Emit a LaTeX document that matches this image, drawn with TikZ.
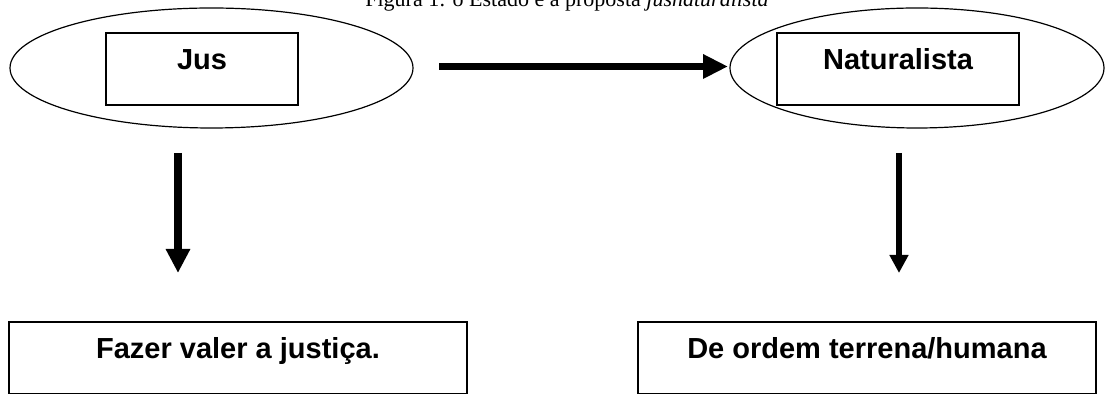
\documentclass[tikz,border=0pt]{standalone}
\usepackage{fontspec}
\setmainfont{Liberation Serif}
\setsansfont{Liberation Sans}
\usetikzlibrary{arrows.meta,shapes.geometric}

\begin{document}
\begin{tikzpicture}[x=0.5pt,y=-0.5pt]
        \tikzset{ring/.style={ellipse, draw, line width=0.6pt, inner sep=0pt, minimum height=60pt},
            termbox/.style={rectangle, draw, line width=0.6pt, inner sep=0pt, text height=18.5pt,
            text depth=17.5pt, font=\sffamily\bfseries\fontsize{14.5}{17}\selectfont},
            bigarrow/.style={-{Triangle[length=12.5pt,width=11.5pt]}, line width=3.5pt}}
        \useasboundingbox (0,0) rectangle (1105,394);
        \clip (0,0) rectangle (1105,394);
        % Title, cut at the top
        \node[anchor=base, inner sep=0pt, font=\fontsize{11}{13}\selectfont] (title) at (567,7)
            {Figura 1: o Estado e a proposta \textit{jusnaturalista}};
        % Top row
        \node[ring, minimum width=201.5pt] (jusring) at (211.5,68)  {};
        \node[termbox, minimum width=96pt]  (jus)     at (202,69)    {Jus};
        \node[ring, minimum width=187pt]   (natring) at (917,68)    {};
        \node[termbox, minimum width=121pt] (nat)     at (898,69)    {Naturalista};
        % Bottom row
        \node[termbox, minimum width=229pt] (justica) at (238,358)   {Fazer valer a justiça.};
        \node[termbox, minimum width=229pt] (terrena) at (867,358)   {De ordem terrena/humana};
        % Arrow ends
        \coordinate (a1) at (439,66.5);  \coordinate (b1) at (728,66.5);
        \coordinate (a2) at (178,153);   \coordinate (b2) at (178,273);
        \coordinate (a3) at (899,153);   \coordinate (b3) at (899,273);
        \draw[bigarrow] (a1) -- (b1);
        \draw[bigarrow, line width=4pt, -{Triangle[length=12pt,width=11.5pt]}] (a2) -- (b2);
        \draw[bigarrow, line width=3pt, -{Triangle[length=9pt,width=9pt]}] (a3) -- (b3);
      \end{tikzpicture}
\end{document}
